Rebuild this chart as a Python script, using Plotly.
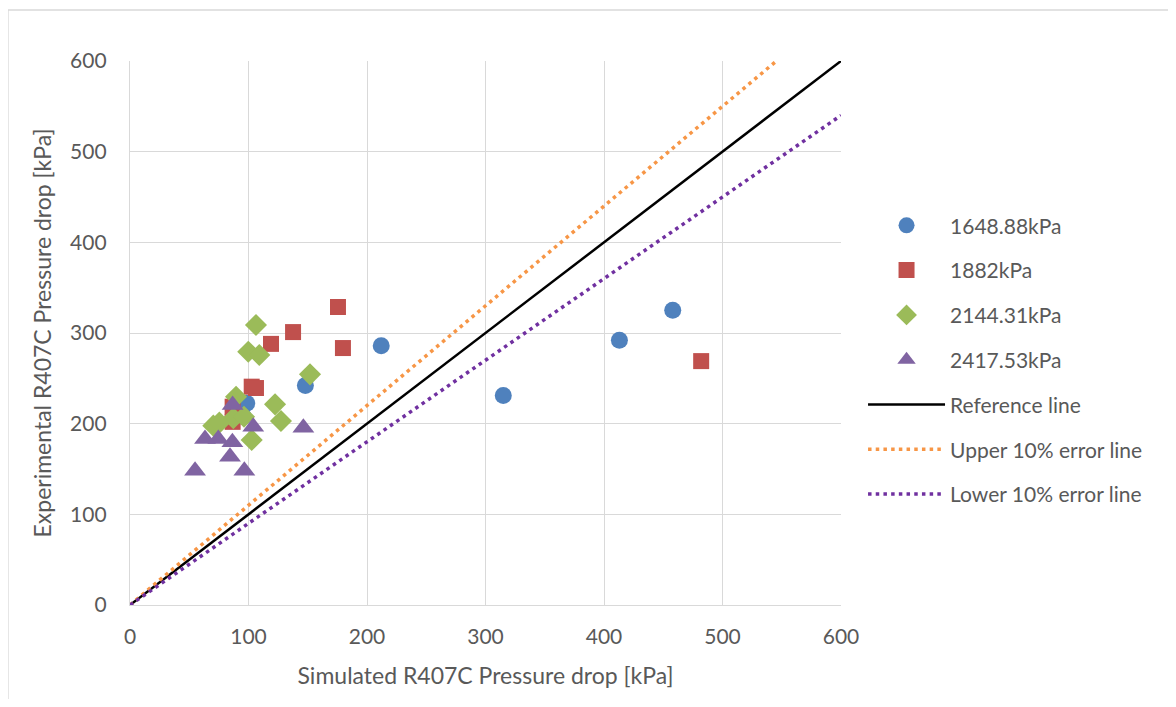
import plotly.graph_objects as go

# Data (kPa): simulated x, experimental y
p1_x = [212, 148, 315, 413, 458, 98.5, 95.6]
p1_y = [286, 242, 231, 292, 325, 222.6, 208]
p2_x = [175.5, 137.6, 119, 179.7, 102.7, 106.3, 86.6, 86.6, 482]
p2_y = [328.7, 301, 288, 283.4, 240.8, 239.3, 218.7, 202, 269]
p3_x = [106.3, 99.8, 109.1, 151.9, 122.4, 127.4, 102.7, 89.5, 87.2, 96.2, 70.3, 75.4]
p3_y = [308.8, 279.4, 275.7, 254.4, 221.3, 202.9, 182, 229.7, 205.9, 207.7, 197.8, 201.1]
p4_x = [86.6, 104, 146.3, 63.3, 74.5, 86.4, 84.4, 54.9, 96.5]
p4_y = [220.6, 196.7, 195.6, 183, 183, 179.4, 163.6, 148.2, 148.2]
line_x = [0, 600]
ref_y = [0, 600]
upper_y = [0, 660]
lower_y = [0, 540]

names = ["1648.88kPa", "1882kPa", "2144.31kPa", "2417.53kPa",
         "Reference line", "Upper 10% error line", "Lower 10% error line"]

fig = go.Figure()
series = [(p1_x, p1_y, "circle", "#4f81bd", 17),
          (p2_x, p2_y, "square", "#c0504d", 16),
          (p3_x, p3_y, "diamond", "#9bbb59", 17),
          (p4_x, p4_y, "triangle-up", "#8064a2", 19)]
for i, (xs, ys, sym, col, sz) in enumerate(series):
    fig.add_trace(go.Scatter(x=xs, y=ys, mode="markers", name=names[i],
                             legendgroup=names[i],
                             marker=dict(symbol=sym, color=col, size=sz, line=dict(width=0))))
fig.add_trace(go.Scatter(x=line_x, y=ref_y, mode="lines", name=names[4], legendgroup=names[4],
                         line=dict(color="black", width=2.5)))
fig.add_trace(go.Scatter(x=line_x, y=upper_y, mode="lines", name=names[5], legendgroup=names[5],
                         line=dict(color="#f79646", width=3.5, dash="3.5px,4.2px")))
fig.add_trace(go.Scatter(x=line_x, y=lower_y, mode="lines", name=names[6], legendgroup=names[6],
                         line=dict(color="#7030a0", width=3.5, dash="3.5px,4.2px")))

font_fam = "Lato, Open Sans, sans-serif"
axis_common = dict(range=[0, 600], dtick=100, showgrid=True, gridcolor="#d9d9d9", gridwidth=1.3,
                   zeroline=False, showline=True, linecolor="#d9d9d9", linewidth=1.3,
                   tickfont=dict(size=21, color="#595959", family=font_fam),
                   ticks="", fixedrange=True)
fig.update_xaxes(**axis_common, ticklabelstandoff=13,
                 title=dict(text="Simulated R407C Pressure drop [kPa]",
                            font=dict(size=23, color="#595959", family=font_fam), standoff=20))
fig.update_yaxes(**axis_common, ticklabelstandoff=18,
                 title=dict(text="Experimental R407C Pressure drop [kPa]",
                            font=dict(size=23, color="#595959", family=font_fam), standoff=12))

W, H = 1160, 691
L, T = 122, 53
R = W - (841 - 8)
B = H - (605 - 8)
fig.update_layout(
    width=W, height=H,
    margin=dict(l=L, r=R, t=T, b=B),
    plot_bgcolor="white", paper_bgcolor="white",
    legend=dict(x=1.031, y=0.735, xanchor="left", yanchor="top",
                font=dict(size=21, color="#595959", family=font_fam),
                tracegroupgap=14.5, itemwidth=77, bgcolor="rgba(0,0,0,0)"),
    shapes=[dict(type="rect", xref="paper", yref="paper",
                 x0=(0 - L) / 711, x1=(W + 20 - L) / 711,
                 y0=(597 - H - 20) / 544, y1=(597 - 2) / 544,
                 line=dict(color="#d9d9d9", width=1.3), layer="below")],
)

fig.write_html("out.html")
